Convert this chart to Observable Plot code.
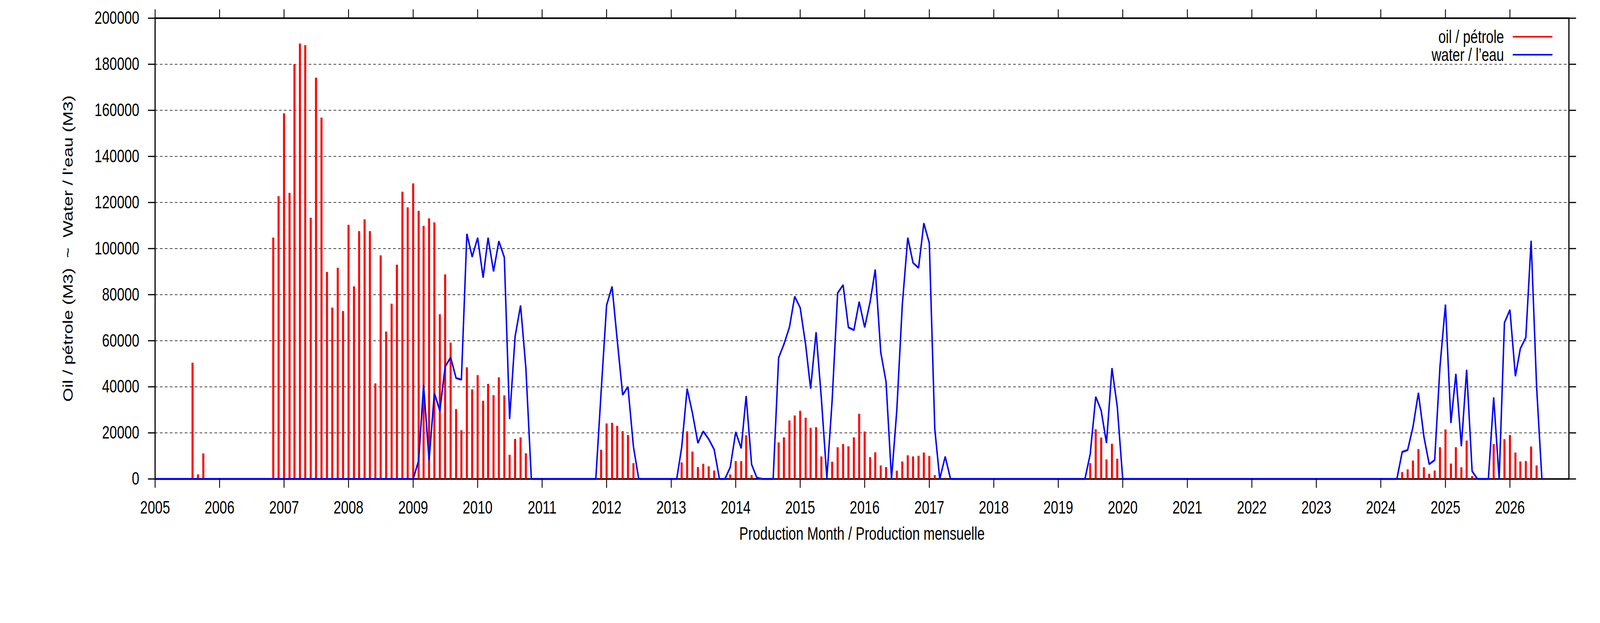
<!DOCTYPE html>
<html>
<head>
<meta charset="utf-8">
<script src="https://cdn.jsdelivr.net/npm/d3@7"></script>
<script src="https://cdn.jsdelivr.net/npm/@observablehq/plot@0.6"></script>
<style>
  html, body { margin: 0; padding: 0; background: #ffffff; width: 100%; height: 100%; overflow: hidden; }
  #chart { width: 100vw; height: 100vh; overflow: hidden; }
  #chart svg { display: block; }
</style>
</head>
<body>
<div id="chart"></div>
<script>
// ---- Data ----
const oilMonths = [
  "2005-08","2005-09","2005-10",
  "2006-11","2006-12",
  "2007-01","2007-02","2007-03","2007-04","2007-05","2007-06","2007-07","2007-08","2007-09","2007-10","2007-11","2007-12",
  "2008-01","2008-02","2008-03","2008-04","2008-05","2008-06","2008-07","2008-08","2008-09","2008-10","2008-11","2008-12",
  "2009-01","2009-02","2009-03","2009-04","2009-05","2009-06","2009-07","2009-08","2009-09","2009-10","2009-11","2009-12",
  "2010-01","2010-02","2010-03","2010-04","2010-05","2010-06","2010-07","2010-08","2010-09","2010-10",
  "2011-12","2012-01","2012-02","2012-03","2012-04","2012-05","2012-06",
  "2013-03","2013-04","2013-05","2013-06","2013-07","2013-08","2013-09","2013-12",
  "2014-01","2014-02","2014-03","2014-04","2014-09","2014-10","2014-11","2014-12",
  "2015-01","2015-02","2015-03","2015-04","2015-05","2015-07","2015-08","2015-09","2015-10","2015-11","2015-12",
  "2016-01","2016-02","2016-03","2016-04","2016-05","2016-07","2016-08","2016-09","2016-10","2016-11","2016-12",
  "2017-01","2017-02","2017-04",
  "2019-07","2019-08","2019-09","2019-10","2019-11","2019-12",
  "2024-05","2024-06","2024-07","2024-08","2024-09","2024-10","2024-11","2024-12",
  "2025-01","2025-02","2025-03","2025-04","2025-05","2025-06","2025-10","2025-12",
  "2026-01","2026-02","2026-03","2026-04","2026-05","2026-06"
];
const oilValues = [
  50400, 1900, 11000,
  104700, 122700,
  158600, 124100, 179900, 188900, 188200, 113300, 174100, 156800, 89800, 74300, 91600, 72800,
  110200, 83500, 107500, 112600, 107500, 41400, 97000, 63900, 76000, 92900, 124600, 117800,
  128200, 116300, 109800, 113000, 111300, 71400, 88700, 59100, 30300, 21100, 48400, 38800,
  45000, 33900, 41200, 36300, 44000, 36200, 10400, 17300, 18000, 11100,
  12600, 24000, 24300, 23000, 20700, 19000, 6800,
  7100, 20600, 11800, 5100, 6500, 5400, 3600, 1900,
  7700, 7700, 18900, 1600, 15800, 18000, 25300, 27500,
  29500, 26500, 22100, 22400, 9700, 7400, 13700, 15100, 14100, 18000, 28200,
  20500, 9400, 11500, 5800, 5100, 3500, 7500, 10200, 9700, 10000, 11400,
  9900, 1600, 400,
  6800, 21500, 17900, 8400, 15200, 8700,
  2900, 4100, 7900, 12900, 5000, 2200, 3600, 13700,
  21400, 6600, 13700, 5000, 16600, 1200, 15100, 17200,
  19000, 11400, 7500, 7700, 14000, 5800
];

const waterMonths = [
  "2005-01","2009-01",
  "2009-02","2009-03","2009-04","2009-05","2009-06","2009-07","2009-08","2009-09","2009-10","2009-11","2009-12",
  "2010-01","2010-02","2010-03","2010-04","2010-05","2010-06","2010-07","2010-08","2010-09","2010-10","2010-11",
  "2011-11","2011-12","2012-01","2012-02","2012-03","2012-04","2012-05","2012-06","2012-07",
  "2013-02","2013-03","2013-04","2013-05","2013-06","2013-07","2013-08","2013-09","2013-10","2013-11","2013-12",
  "2014-01","2014-02","2014-03","2014-04","2014-05","2014-06","2014-08",
  "2014-09","2014-10","2014-11","2014-12",
  "2015-01","2015-02","2015-03","2015-04","2015-05","2015-06","2015-07","2015-08","2015-09","2015-10","2015-11","2015-12",
  "2016-01","2016-02","2016-03","2016-04","2016-05","2016-06","2016-07","2016-08","2016-09","2016-10","2016-11","2016-12",
  "2017-01","2017-02","2017-03","2017-04","2017-05",
  "2019-06","2019-07","2019-08","2019-09","2019-10","2019-11","2019-12","2020-01",
  "2024-04","2024-05","2024-06","2024-07","2024-08","2024-09","2024-10","2024-11","2024-12",
  "2025-01","2025-02","2025-03","2025-04","2025-05","2025-06","2025-07","2025-09","2025-10","2025-11","2025-12",
  "2026-01","2026-02","2026-03","2026-04","2026-05","2026-06","2026-07"
];
const waterValues = [
  0, 0,
  8000, 40800, 8100, 37300, 29600, 48700, 52800, 43800, 43100, 106400, 96400,
  104700, 87400, 104700, 90100, 103200, 96200, 26000, 61800, 75300, 48200, 0,
  0, 37700, 75400, 83500, 60500, 36500, 40000, 14000, 0,
  0, 13600, 39200, 28600, 15600, 20700, 17300, 12800, 0, 0, 5100,
  20400, 13300, 36000, 6300, 500, 0, 0,
  52600, 58500, 65800, 79200,
  74300, 58200, 39200, 63700, 34800, 300, 34200, 80700, 84200, 65800, 64600, 76900,
  65800, 76900, 90900, 55000, 42200, 0, 29900, 75500, 104700, 93800, 91600, 111000,
  102400, 21700, 0, 9700, 0,
  0, 10800, 35700, 29700, 15600, 48100, 31400, 0,
  0, 11700, 12600, 22500, 37400, 18400, 6400, 8200, 48800,
  75700, 24300, 45600, 14200, 47400, 3400, 0, 0, 35400, 0, 67800,
  73400, 44600, 56600, 61400, 103400, 40000, 0
];

const yearTicks = [2005,2006,2007,2008,2009,2010,2011,2012,2013,2014,2015,2016,2017,2018,2019,2020,2021,2022,2023,2024,2025,2026];
const yTicks = [0,20000,40000,60000,80000,100000,120000,140000,160000,180000,200000];
const gridTicks = [20000,40000,60000,80000,100000,120000,140000,160000,180000];

const xTitle = "Production Month / Production mensuelle";
const yTitle = "Oil / pétrole (M3)\u00a0\u00a0~\u00a0\u00a0Water / l’eau (M3)";
const legendLabels = ["oil / pétrole", "water / l’eau"];
const legendColors = ["#ff0000", "#0000ff"];

// ---- Build tables ----
const parseMonth = s => new Date(Date.UTC(+s.slice(0, 4), +s.slice(5, 7) - 1, 1));
const oil = oilMonths.map((m, i) => ({date: parseMonth(m), value: oilValues[i]}));
const water = waterMonths.map((m, i) => ({date: parseMonth(m), value: waterValues[i]}));
const yearDates = yearTicks.map(y => new Date(Date.UTC(y, 0, 1)));

const FONT = "'Liberation Sans', Arial, Helvetica, sans-serif";

function legendMark(index, scales, values, dims) {
  const g = d3.create("svg:g")
    .attr("font-family", FONT)
    .attr("font-size", 46)
    .attr("fill", "black");
  const right = dims.width - dims.marginRight;
  const top = dims.marginTop;
  legendLabels.forEach((label, i) => {
    const cy = top + 48 + i * 46;
    g.append("text")
      .attr("x", right - 222)
      .attr("y", cy + 16)
      .attr("text-anchor", "end")
      .text(label);
    g.append("line")
      .attr("x1", right - 192)
      .attr("x2", right - 56)
      .attr("y1", cy)
      .attr("y2", cy)
      .attr("stroke", legendColors[i])
      .attr("stroke-width", 4);
  });
  return g.node();
}

const chart = Plot.plot({
  width: 5483,
  height: 1594,
  marginLeft: 531,
  marginRight: 107,
  marginTop: 46,
  marginBottom: 369,
  style: {fontFamily: FONT, fontSize: "46px", color: "black", background: "white"},
  x: {type: "utc", domain: [new Date(Date.UTC(2005, 0, 1)), new Date(Date.UTC(2026, 11, 1))]},
  y: {domain: [0, 200000]},
  marks: [
    Plot.gridY(gridTicks, {stroke: "black", strokeOpacity: 1, strokeWidth: 1.5, strokeDasharray: "9,8"}),
    Plot.frame({stroke: "black", strokeWidth: 4}),
    Plot.ruleX(oil, {x: "date", y1: 0, y2: "value", stroke: legendColors[0], strokeWidth: 7}),
    Plot.line(water, {x: "date", y: "value", stroke: legendColors[1], strokeWidth: 5, strokeLinejoin: "miter", curve: "linear"}),
    Plot.axisX({anchor: "bottom", ticks: yearDates, tickSize: 23, tickPadding: 33, tickFormat: d3.utcFormat("%Y"), fontSize: 46, strokeWidth: 3, label: null}),
    Plot.axisX({anchor: "top", ticks: yearDates, tickSize: 23, tickFormat: () => "", strokeWidth: 3, label: null}),
    Plot.axisY({anchor: "left", ticks: yTicks, tickSize: 24, tickPadding: 30, tickFormat: d => String(d), fontSize: 46, strokeWidth: 3, label: null}),
    Plot.axisY({anchor: "right", ticks: yTicks, tickSize: 24, tickFormat: () => "", strokeWidth: 3, label: null}),
    Plot.text([xTitle], {text: d => d, frameAnchor: "bottom", dy: 141, lineAnchor: "middle", textAnchor: "middle", fontSize: 46, fill: "black"}),
    Plot.text([yTitle], {text: d => d, frameAnchor: "left", dx: -297, rotate: -90, lineAnchor: "middle", textAnchor: "middle", fontSize: 46, fill: "black"}),
    legendMark
  ]
});

// Fill the whole browser window with the 5483x1594 drawing.
chart.setAttribute("viewBox", "0 0 5483 1594");
chart.setAttribute("preserveAspectRatio", "none");
chart.style.width = "100vw";
chart.style.height = "100vh";
chart.style.maxWidth = "none";
document.getElementById("chart").appendChild(chart);
</script>
</body>
</html>
